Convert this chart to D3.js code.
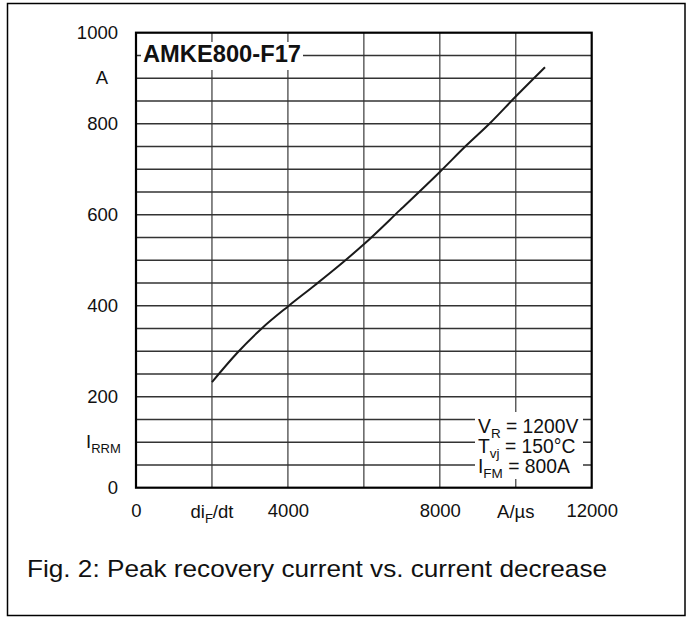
<!DOCTYPE html>
<html>
<head>
<meta charset="utf-8">
<script src="https://cdn.jsdelivr.net/npm/d3@7"></script>
<style>
  body { margin: 0; background: #fff; }
  text { font-family: "Liberation Sans", Arial, sans-serif; fill: #111; }
</style>
</head>
<body>
<div id="chart"></div>
<script>
// di/dt in A/us vs peak recovery current I_RRM in A
const diDt = [2000, 2650, 3310, 4010, 4710, 5460, 6000, 6950, 8000, 8710, 9320, 9980, 10770];
const iRRM = [232, 295, 350, 399, 445, 496, 535, 610, 694, 753, 801, 858, 924];

const xTicks = [0, 4000, 8000, 12000];
const yTicks = [0, 200, 400, 600, 800, 1000];
const xGrid = d3.range(0, 12001, 2000);
const yGrid = d3.range(0, 1001, 50);

const W = 688, H = 617;
const M = { left: 136, right: 591.7, top: 32.7, bottom: 487.7 };

const svg = d3.select('#chart').append('svg')
	.attr('width', W)
	.attr('height', H);

// outer frame
svg.append('rect')
	.attr('x', 7.5).attr('y', 3.5)
	.attr('width', 677.5).attr('height', 612)
	.attr('fill', 'none').attr('stroke', '#000').attr('stroke-width', 1.5);

const x = d3.scaleLinear().domain([0, 12000]).range([M.left, M.right]);
const y = d3.scaleLinear().domain([0, 1000]).range([M.bottom, M.top]);

// grid
const grid = svg.append('g').attr('class', 'grid');
grid.selectAll('line.v')
	.data(xGrid.slice(1, -1))
	.enter().append('line')
	.attr('class', 'v')
	.attr('x1', d => x(d)).attr('x2', d => x(d))
	.attr('y1', M.top).attr('y2', M.bottom)
	.attr('stroke', '#555').attr('stroke-width', 1.4);
grid.selectAll('line.h')
	.data(yGrid.slice(1, -1))
	.enter().append('line')
	.attr('class', 'h')
	.attr('x1', M.left).attr('x2', M.right)
	.attr('y1', d => y(d)).attr('y2', d => y(d))
	.attr('stroke', '#333').attr('stroke-width', 1.4);

// curve
const line = d3.line()
	.x((d, i) => x(d))
	.y((d, i) => y(iRRM[i]))
	.curve(d3.curveMonotoneX);

svg.append('path')
	.datum(diDt)
	.attr('d', line)
	.attr('fill', 'none')
	.attr('stroke', '#1a1a1a')
	.attr('stroke-width', 2);

// white boxes behind labels inside plot
svg.append('rect')
	.attr('x', 141).attr('y', 42).attr('width', 162).attr('height', 28)
	.attr('fill', '#fff');
svg.append('text')
	.attr('x', 143).attr('y', 62)
	.attr('font-size', 23.5).attr('font-weight', 'bold')
	.attr('fill', '#000')
	.attr('textLength', 158).attr('lengthAdjust', 'spacingAndGlyphs')
	.text('AMKE800-F17');

svg.append('rect')
	.attr('x', 475).attr('y', 412).attr('width', 108).attr('height', 67)
	.attr('fill', '#fff');

const notes = [
	{ main: 'V', sub: 'R', rest: ' = 1200V' },
	{ main: 'T', sub: 'vj', rest: ' = 150°C' },
	{ main: 'I', sub: 'FM', rest: ' = 800A' }
];
notes.forEach((n, i) => {
	const t = svg.append('text')
		.attr('x', 478).attr('y', 433 + i * 20)
		.attr('font-size', 19.3);
	t.append('tspan').text(n.main);
	t.append('tspan').attr('font-size', 13.5).attr('dy', 5).text(n.sub);
	t.append('tspan').attr('dy', -5).text(n.rest);
});

// plot frame
svg.append('rect')
	.attr('x', M.left).attr('y', M.top)
	.attr('width', M.right - M.left).attr('height', M.bottom - M.top)
	.attr('fill', 'none').attr('stroke', '#000').attr('stroke-width', 2.2);

// y axis labels
const yAxis = d3.axisLeft(y).tickValues(yTicks).tickSize(0).tickPadding(18)
	.tickFormat(d3.format('d'));
const gy = svg.append('g')
	.attr('transform', `translate(${M.left},0)`)
	.call(yAxis);
gy.select('.domain').remove();
gy.selectAll('text')
	.attr('font-size', 18.5)
	.attr('font-family', '"Liberation Sans", Arial, sans-serif')
	.attr('fill', '#111');

svg.append('text')
	.attr('x', 102).attr('y', y(900) + 6)
	.attr('text-anchor', 'middle')
	.attr('font-size', 18.5)
	.text('A');
const iy = svg.append('text')
	.attr('x', 86).attr('y', y(100) + 6)
	.attr('font-size', 18.5);
iy.append('tspan').text('I');
iy.append('tspan').attr('font-size', 13).attr('dy', 5).text('RRM');

// x axis labels
const xAxis = d3.axisBottom(x).tickValues(xTicks).tickSize(0).tickPadding(16)
	.tickFormat(d3.format('d'));
const gx = svg.append('g')
	.attr('transform', `translate(0,${M.bottom})`)
	.call(xAxis);
gx.select('.domain').remove();
gx.selectAll('text')
	.attr('font-size', 18.5)
	.attr('font-family', '"Liberation Sans", Arial, sans-serif')
	.attr('fill', '#111');

const dx = svg.append('text')
	.attr('x', x(2000)).attr('y', 518)
	.attr('text-anchor', 'middle')
	.attr('font-size', 18.5);
dx.append('tspan').text('di');
dx.append('tspan').attr('font-size', 13).attr('dy', 5).text('F');
dx.append('tspan').attr('dy', -5).text('/dt');

svg.append('text')
	.attr('x', x(10000)).attr('y', 518)
	.attr('text-anchor', 'middle')
	.attr('font-size', 18.5)
	.text('A/µs');

// caption
svg.append('text')
	.attr('x', 27).attr('y', 577)
	.attr('font-size', 24)
	.attr('textLength', 580).attr('lengthAdjust', 'spacingAndGlyphs')
	.text('Fig. 2: Peak recovery current vs. current decrease');
</script>
</body>
</html>
